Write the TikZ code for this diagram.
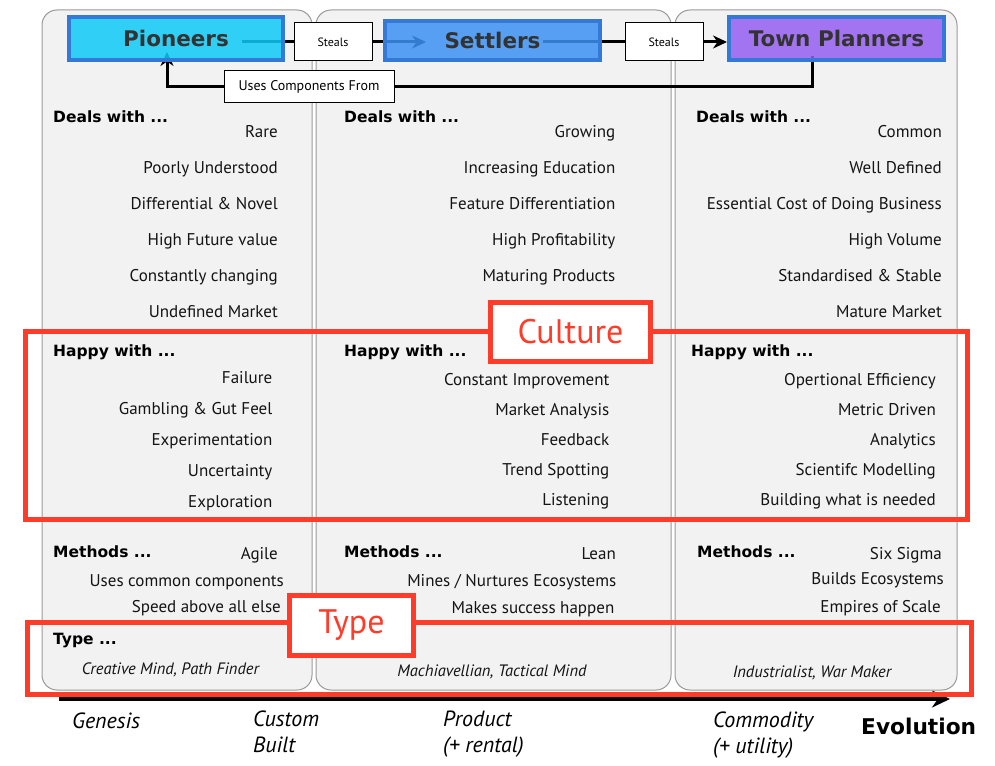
\documentclass[tikz,border=0pt]{standalone}
\usepackage{fontspec}
\setmainfont{PT Sans}
\newfontfamily\heavyfont{DejaVu Sans}
\usetikzlibrary{arrows.meta,calc}
\pgfdeclarelayer{bglayer}
\pgfdeclarelayer{connlayer}
\pgfsetlayers{bglayer,connlayer,main}
\definecolor{colfill}{HTML}{F2F2F2}
\definecolor{colline}{HTML}{9A9A9A}
\definecolor{redc}{HTML}{FF3B2A}
\definecolor{bordblue}{HTML}{3479D6}
\definecolor{piofill}{RGB}{14,202,247}
\definecolor{setfill}{RGB}{60,145,242}
\definecolor{tpfill}{RGB}{148,95,242}
\definecolor{titletext}{HTML}{333333}
\definecolor{bodytext}{HTML}{141414}
\begin{document}
\begin{tikzpicture}[x=1pt,y=-1pt,
  colbox/.style={draw=colline, fill=colfill, line width=1pt, rounded corners=15pt, inner sep=0pt},
  role/.style={draw=bordblue, line width=4pt, fill opacity=0.85, draw opacity=1, text opacity=1, text=titletext, font=\heavyfont\bfseries\fontsize{21.5}{25}\selectfont, inner sep=0pt},
  tag/.style={draw=black, fill=white, line width=1pt, inner sep=0pt, text=black},
  conn/.style={line width=3pt, draw=black},
  item/.style={anchor=base east, inner sep=0pt, text=bodytext, font=\fontsize{17}{20}\selectfont},
  head/.style={anchor=base west, inner sep=0pt, text=black, font=\heavyfont\bfseries\fontsize{15.5}{18}\selectfont},
  typeitem/.style={anchor=base, inner sep=0pt, text=bodytext, font=\fontsize{16.5}{19}\selectfont\itshape},
  frame/.style={draw=redc, line width=5pt, inner sep=0pt},
  framelabel/.style={draw=redc, fill=white, line width=5pt, text=redc, font=\fontsize{34}{40}\selectfont, inner sep=0pt},
  axlabel/.style={anchor=base west, inner sep=0pt, text=black, font=\fontsize{22}{26}\selectfont\itshape},
]
\useasboundingbox (0,0) rectangle (995,765);

\begin{pgfonlayer}{bglayer}
% evolution axis
\coordinate (ax0) at (59,699);
\coordinate (ax1) at (950,699);
\draw[line width=4pt, -{Stealth[length=18pt,width=17pt]}] (ax0) -- (ax1);
% columns
\node[colbox, minimum width=270pt, minimum height=680pt] (col1) at (177,350) {};
\node[colbox, minimum width=355pt, minimum height=680pt] (col2) at (493.5,350) {};
\node[colbox, minimum width=282pt, minimum height=680pt] (col3) at (816,350) {};
\end{pgfonlayer}

% role boxes
\node[role, fill=piofill, minimum width=214pt, minimum height=43pt] (pio) at (176,38.5) {Pioneers};
\node[role, fill=setfill, minimum width=215pt, minimum height=39pt] (set) at (492.5,40.5) {Settlers};
\node[role, fill=tpfill, minimum width=215pt, minimum height=43pt] (tp) at (836.5,38.5) {Town Planners};

% tags
\node[tag, minimum width=78pt, minimum height=38pt, font=\fontsize{12}{14}\selectfont] (st1) at (333,42) {Steals};
\node[tag, minimum width=78pt, minimum height=38pt, font=\fontsize{12}{14}\selectfont] (st2) at (664,42) {Steals};
\node[tag, minimum width=170pt, minimum height=32pt, font=\fontsize{14}{16}\selectfont] (uc) at (309,86.5) {Uses Components From};

% connectors (below the boxes)
\begin{pgfonlayer}{connlayer}
\coordinate (a1s) at (242,42);
\coordinate (a1e) at (426,42);
\coordinate (a2s) at (543,42);
\coordinate (a3s) at (812,56);
\coordinate (a3e) at (167,52);
\draw[conn, -{Stealth[length=14pt,width=13pt]}] (a1s) -- (st1) -- (a1e);
\draw[conn, -{Stealth[length=14pt,width=13pt]}] (a2s) -- (st2) -- (a2s -| tp.west);
\draw[conn, -{Stealth[length=14pt,width=13pt]}] (a3s) -- (a3s |- uc.center) -- (uc) -- (a3e |- uc.center) -- (a3e);
\end{pgfonlayer}

% column 1
\node[head] (h1a) at (53,122) {Deals with ...};
\foreach \t [count=\i from 0] in {Rare, Poorly Understood, Differential \& Novel, High Future value, Constantly changing, Undefined Market}
  \node[item] (c1d\i) at (278,{137+36*\i}) {\t};
\node[head] (h1b) at (53,356) {Happy with ...};
\foreach \t [count=\i from 0] in {Failure, Gambling \& Gut Feel, Experimentation, Uncertainty, Exploration}
  \node[item] (c1h\i) at (272.5,{383+31*\i}) {\t};
\node[head] (h1c) at (53,557) {Methods ...};
\node[item] (c1m0) at (278,559) {Agile};
\node[item] (c1m1) at (284,586) {Uses common components};
\node[item] (c1m2) at (281,612) {Speed above all else};
\node[head] (h1d) at (53,644) {Type ...};
\node[typeitem] (c1t) at (170.5,674) {Creative Mind, Path Finder};

% column 2
\node[head] (h2a) at (344,122) {Deals with ...};
\foreach \t [count=\i from 0] in {Growing, Increasing Education, Feature Differentiation, High Profitability, Maturing Products}
  \node[item] (c2d\i) at (615.5,{137+36*\i}) {\t};
\node[head] (h2b) at (344,356) {Happy with ...};
\foreach \t [count=\i from 0] in {Constant Improvement, Market Analysis, Feedback, Trend Spotting, Listening}
  \node[item] (c2h\i) at (609.5,{385+30*\i}) {\t};
\node[head] (h2c) at (344,557) {Methods ...};
\node[item] (c2m0) at (616,559) {Lean};
\node[item] (c2m1) at (616.5,586) {Mines / Nurtures Ecosystems};
\node[item] (c2m2) at (614.5,613) {Makes success happen};
\node[typeitem] (c2t) at (492,676) {Machiavellian, Tactical Mind};

% column 3
\node[head] (h3a) at (696,122) {Deals with ...};
\foreach \t [count=\i from 0] in {Common, Well Defined, Essential Cost of Doing Business, High Volume, Standardised \& Stable, Mature Market}
  \node[item] (c3d\i) at (942,{137+36*\i}) {\t};
\node[head] (h3b) at (691,356) {Happy with ...};
\foreach \t [count=\i from 0] in {Opertional Efficiency, Metric Driven, Analytics, Scientifc Modelling, Building what is needed}
  \node[item] (c3h\i) at (936,{385+30*\i}) {\t};
\node[head] (h3c) at (697,557) {Methods ...};
\node[item] (c3m0) at (942,559) {Six Sigma};
\node[item] (c3m1) at (944,584) {Builds Ecosystems};
\node[item] (c3m2) at (941,612) {Empires of Scale};
\node[typeitem] (c3t) at (812,677) {Industrialist, War Maker};

% red frames
\node[frame, minimum width=942pt, minimum height=188pt] (cultframe) at (496.5,425.5) {};
\node[framelabel, minimum width=160pt, minimum height=59pt] (cult) at (570.5,332) {Culture};
\node[frame, minimum width=944pt, minimum height=72pt] (typeframe) at (499.5,658.5) {};
\node[framelabel, minimum width=124pt, minimum height=60pt] (typ) at (351.5,625.5) {Type};

% axis labels
\node[axlabel] (gen) at (72,728) {Genesis};
\node[axlabel] (cus1) at (253,726) {Custom};
\node[axlabel] (cus2) at (253,752) {Built};
\node[axlabel] (pro1) at (443,726) {Product};
\node[axlabel] (pro2) at (443,752) {(+ rental)};
\node[axlabel] (com1) at (713,727) {Commodity};
\node[axlabel] (com2) at (713,753) {(+ utility)};
\node[anchor=base west, inner sep=0pt, text=black, font=\heavyfont\bfseries\fontsize{21.7}{25}\selectfont] (evo) at (861,734) {Evolution};
\end{tikzpicture}
\end{document}
